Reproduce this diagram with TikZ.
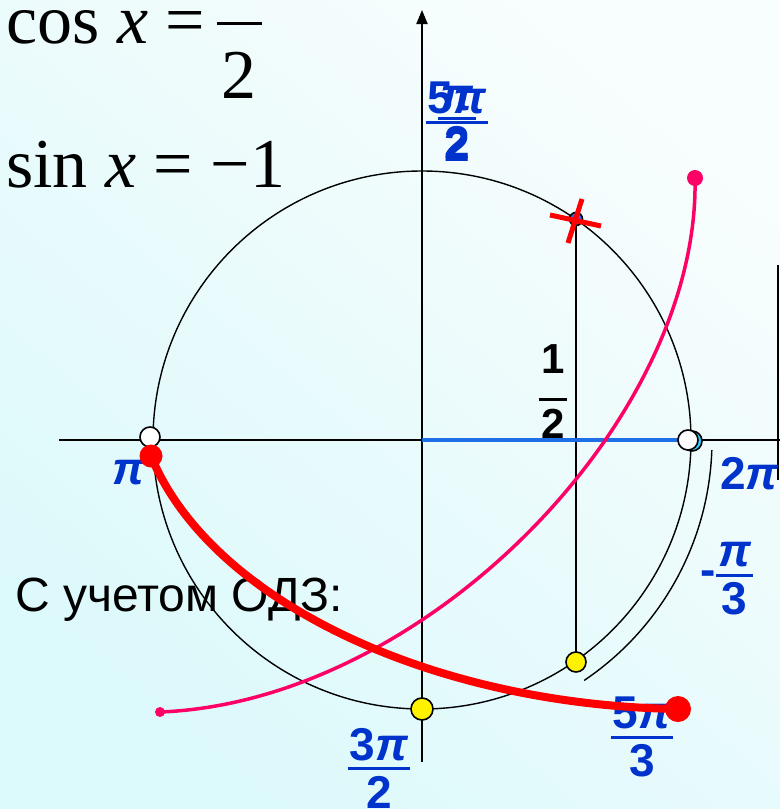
\documentclass[tikz,border=0pt]{standalone}
\usepackage{fontspec}
\setmainfont{Liberation Sans}
\newfontfamily\eqfont{Liberation Serif}
\usepackage{tikz}
\usetikzlibrary{arrows.meta,positioning}

\definecolor{lblblue}{HTML}{0033CC}
\definecolor{bgtop}{HTML}{F8FDFD}
\definecolor{bgbot}{HTML}{DCF9FB}
\definecolor{rootpink}{HTML}{FF0066}
\definecolor{segblue}{HTML}{1E6FE6}
\definecolor{cyanpt}{HTML}{33CCFF}
\definecolor{toppt}{HTML}{3366FF}

% fraction as a small table: numerator, bar, denominator
\newcommand{\lfrac}[3][7pt]{{\setlength{\arrayrulewidth}{3pt}\renewcommand{\arraystretch}{0}%
\begin{tabular}{@{\hspace{2pt}}c@{\hspace{2pt}}}\rule[-#1]{0pt}{#1}#2\\\hline\rule{0pt}{38pt}#3\end{tabular}}}

\begin{document}
\begin{tikzpicture}[x=1pt,y=-1pt,
                lbl/.style={text=lblblue, font=\bfseries\fontsize{46}{46}\selectfont, inner sep=0pt},
                eq/.style={font=\eqfont\fontsize{70}{70}\selectfont, inner sep=0pt, anchor=base west},
                pnt/.style={circle, draw, line width=1.6pt, inner sep=0pt, minimum size=#1},
                circ/.style={line width=1.4pt},
                axis/.style={line width=2pt},
                cross/.style={red, line width=5pt}
            ]
            \useasboundingbox (0,0) rectangle (780,809);
            \shade[top color=bgtop, bottom color=bgbot, shading angle=-40] (0,0) rectangle (780,809);
            % points used below
            \coordinate (O) at (422,440);
            \coordinate (xl) at (59,440);
            \coordinate (xr) at (780,440);
            \coordinate (yb) at (422,762);
            \coordinate (yt) at (422,10);
            \coordinate (edgeT) at (778,265);
            \coordinate (edgeB) at (778,480);
            \coordinate (ptTop) at (576,219);
            \coordinate (ptLow) at (576,662);
            \coordinate (ptZero) at (688,440);
            \coordinate (ptPi) at (150,437);
            \coordinate (redA) at (151,456);
            \coordinate (redB) at (678,709);
            \coordinate (pinkA) at (160,712);
            \coordinate (pinkB) at (695,178);
            % texts
            \node[eq] (cosx) at (6,43) {cos \textit{x} =};
            \coordinate (barL) at (217,23);
            \coordinate (barR) at (262,23);
            \draw[line width=3pt] (barL) -- (barR);
            \node[eq, anchor=base] (two) at (239,98) {2};
            \node[eq] (sinx) at (6,187) {sin \textit{x} = −1};
            \node[inner sep=0pt, anchor=base west, font=\fontsize{48}{48}\selectfont] (odz) at (15,611) {С учетом ОДЗ:};
            % circle, arc and axes
            \draw[circ] (O) circle[radius=269pt];
            \draw[circ] (O) ++(-2:290pt) arc[start angle=-2, end angle=-56, radius=290pt];
            \draw[axis] (xl) -- (xr);
            \draw[axis, -{Triangle[length=14pt,width=11pt]}] (yb) -- (yt);
            \draw[axis] (edgeT) -- (edgeB);
            \draw[axis] (ptTop) -- (ptLow);
            \draw[segblue, line width=4pt] (O) -- (ptZero);
            % labels
            \node[lbl] (halfpi) at (457,122) {\lfrac{\textit{π}}{2}};
            \node[lbl] (fivehalf) at (457,122) {\lfrac{5\textit{π}}{2}};
            \node[lbl] (pilbl) at (129,473) {\textit{π}};
            \node[lbl, anchor=west] (twopi) at (720,474) {2\textit{π}};
            \node[lbl] (mthird) at (727,579) {-\lfrac{\textit{π}}{3}};
            \node[lbl] (threehalf) at (379,768) {\lfrac{3\textit{π}}{2}};
            \node[lbl] (fivethird) at (642,737) {\lfrac{5\textit{π}}{3}};
            \node[lbl, text=black, font=\bfseries\fontsize{42}{42}\selectfont] (half) at (553,392) {\lfrac[24pt]{1}{2}};
            % curves
            \draw[rootpink, line width=3.5pt] (pinkA) .. controls (425,702) and (700,420) .. (pinkB);
            \draw[red, line width=8pt] (redA) .. controls (210,600) and (430,705) .. (redB);
            % points
            \node[pnt=13pt, fill=toppt] (top) at (ptTop) {};
            \draw[cross] (550,215) -- (601,226);
            \draw[cross] (582,199) -- (568,243);
            \node[pnt=20pt, fill=cyanpt] (zeroc) at (692,441) {};
            \node[pnt=20pt, fill=white] (zero) at (ptZero) {};
            \node[pnt=20pt, fill=white] (pi) at (ptPi) {};
            \node[circle, fill=red, inner sep=0pt, minimum size=23pt] (pidot) at (redA) {};
            \node[pnt=20pt, fill=yellow] (low) at (ptLow) {};
            \node[pnt=22pt, fill=yellow] (bottom) at (422,709) {};
            \node[circle, fill=red, inner sep=0pt, minimum size=26pt] (enddot) at (redB) {};
            \node[circle, fill=rootpink, inner sep=0pt, minimum size=10pt] (pinkdotA) at (pinkA) {};
            \node[circle, fill=rootpink, inner sep=0pt, minimum size=16pt] (pinkdotB) at (pinkB) {};
        \end{tikzpicture}
\end{document}
